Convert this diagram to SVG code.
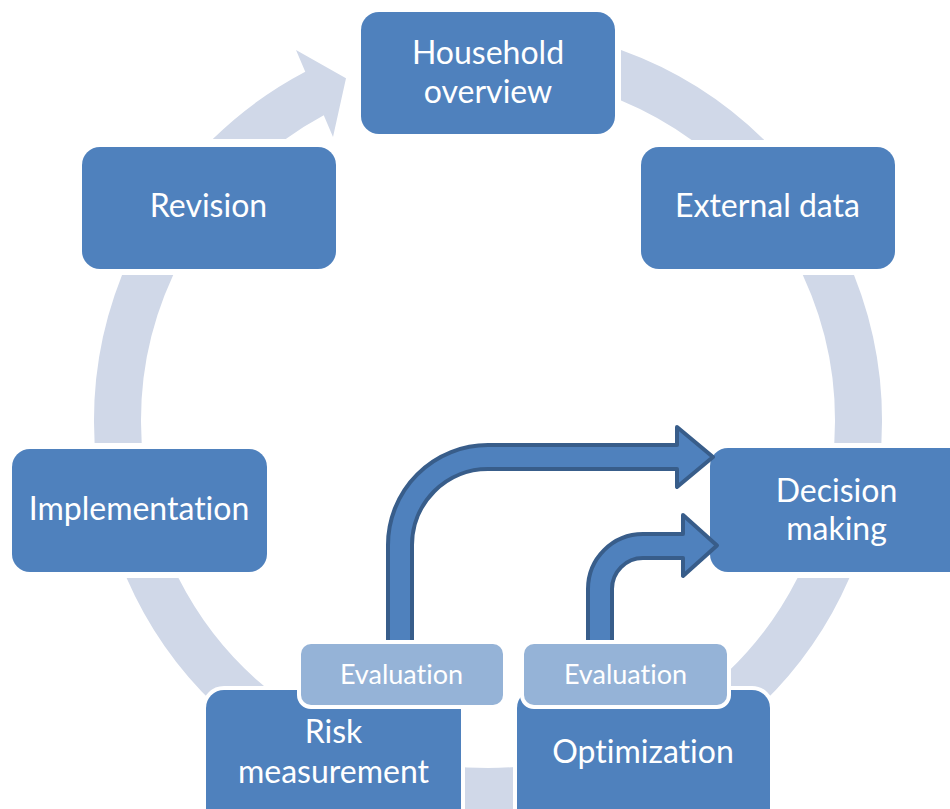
<svg xmlns="http://www.w3.org/2000/svg" width="950" height="809" viewBox="0 0 950 809">
<style>
.ring{fill:#d0d8e8}
.node rect{fill:#4f81bd;stroke:#ffffff;stroke-width:8;paint-order:stroke}
.eval rect{fill:#95b3d7;stroke:#ffffff;stroke-width:8;paint-order:stroke}
text{font-family:Lato,"Open Sans",sans-serif;fill:#ffffff;text-anchor:middle;font-variant-ligatures:none;font-feature-settings:"liga" 0}
.node text{font-size:32px}
.eval text{font-size:27px}
.barrow{fill:#4f81bd;stroke:#385d8a;stroke-width:4;stroke-linejoin:round}
</style>
<rect x="0" y="0" width="950" height="809" fill="#ffffff"/>
<g id="connectors">
  <path class="ring" d="M621,50.1 A394,394 0 0 1 764.2,140 L691.6,140 A347,347 0 0 0 621,100.5 Z"/>
  <path class="ring" d="M854,275 A394,394 0 0 1 881.4,443 L834.3,443 A347,347 0 0 0 802.8,275 Z"/>
  <path class="ring" d="M849.4,578 A394,394 0 0 1 761,705 L687.4,705 A347,347 0 0 0 797.5,578 Z"/>
  <path class="ring" d="M530,765.4 L530,812.8 A394,394 0 0 1 446,812.8 L446,765.4 A347,347 0 0 0 530,765.4 Z"/>
  <path class="ring" d="M215,705 A394,394 0 0 1 126.6,578 L178.5,578 A347,347 0 0 0 288.6,705 Z"/>
  <path class="ring" d="M94.6,443 A394,394 0 0 1 122.05,275 L173.2,275 A347,347 0 0 0 141.7,443 Z"/>
  <path class="ring" d="M212.8,139 A394,394 0 0 1 305.25,71.75 L296,50 L346,78.3 L333,137 L323.75,115.25 A347,347 0 0 0 285.8,139 Z"/>
</g>
<g id="household" class="node"><rect x="361" y="12" width="254" height="122" rx="18"/><text x="488" y="64">Household</text><text x="488" y="103">overview</text></g>
<g id="external" class="node"><rect x="641" y="147" width="254" height="122" rx="18"/><text x="767.5" y="217">External data</text></g>
<g id="revision" class="node"><rect x="82" y="147" width="254" height="122" rx="18"/><text x="208.5" y="217">Revision</text></g>
<g id="implementation" class="node"><rect x="12" y="449" width="255" height="123" rx="18"/><text x="139" y="520">Implementation</text></g>
<g id="decision" class="node"><rect x="710" y="448" width="256" height="124" rx="18"/><text x="836.5" y="502">Decision</text><text x="836.5" y="540">making</text></g>
<g id="risk" class="node"><rect x="206" y="690" width="255" height="140" rx="18"/><text x="333.5" y="743">Risk</text><text x="333.5" y="783">measurement</text></g>
<g id="optimization" class="node"><rect x="517" y="690" width="253" height="140" rx="18"/><text x="643" y="763">Optimization</text></g>
<g id="connectors-eval">
  <path class="barrow" d="M388,646 L388,545 A100,100 0 0 1 488,445 L677,445 L677,427 L713,457 L677,487 L677,469 L488,469 A76,76 0 0 0 412,545 L412,646 Z"/>
  <path class="barrow" d="M588,646 L588,589 A55,55 0 0 1 643,534 L683,534 L683,515 L717,545.5 L683,576 L683,558 L643,558 A31,31 0 0 0 612,589 L612,646 Z"/>
</g>
<g id="eval1" class="eval"><rect x="301" y="644" width="202" height="61" rx="10"/><text x="401.5" y="684">Evaluation</text></g>
<g id="eval2" class="eval"><rect x="524" y="644" width="203" height="61" rx="10"/><text x="625.5" y="684">Evaluation</text></g>
</svg>
